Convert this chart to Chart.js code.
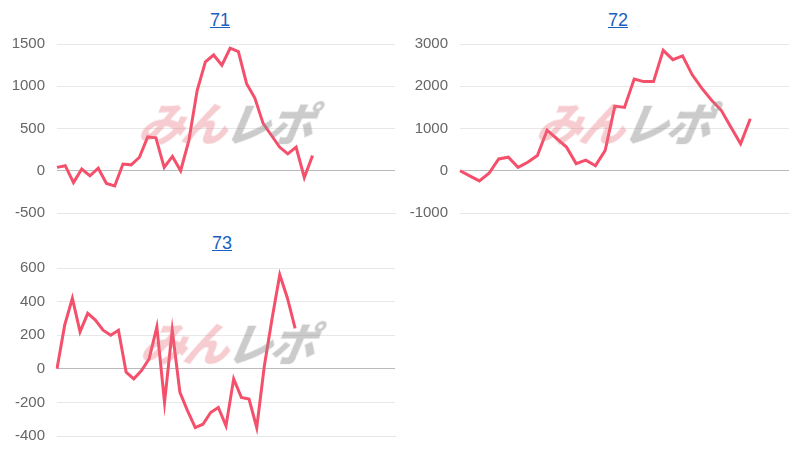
<!DOCTYPE html>
<html><head><meta charset="utf-8">
<script src="https://cdn.jsdelivr.net/npm/chart.js"></script>
<style>
body{margin:0;background:#fff;font-family:"Liberation Sans",Arial,sans-serif;overflow:hidden;}
.t{position:absolute;text-align:center;font-size:18px;width:80px;}
.t a{color:#1a5fc0;text-decoration:underline;}
.c{position:absolute;}
.wm{position:absolute;font:italic 900 46px "Noto Sans CJK JP";letter-spacing:-3px;pointer-events:none;transform:skewX(-10deg);}
.wm .a{color:rgba(230,110,120,0.35);} .wm .b{color:rgba(140,140,140,0.45);}
</style></head><body>
<div class="t" style="left:180px;top:10px"><a href="#">71</a></div>
<div class="t" style="left:578px;top:10px"><a href="#">72</a></div>
<div class="t" style="left:182px;top:233px"><a href="#">73</a></div>
<div class="c" style="left:0;top:23px;width:398px;height:211px"><canvas id="c1"></canvas></div>
<div class="c" style="left:400px;top:23px;width:392px;height:211px"><canvas id="c2"></canvas></div>
<div class="c" style="left:0;top:247px;width:398px;height:210px"><canvas id="c3"></canvas></div>
<div class="wm" style="left:140px;top:88px"><span class="a">みん</span><span class="b">レポ</span></div>
<div class="wm" style="left:538px;top:88px"><span class="a">みん</span><span class="b">レポ</span></div>
<div class="wm" style="left:142px;top:308px"><span class="a">みん</span><span class="b">レポ</span></div>
<script>
const titles=["71","72","73"];
const s71=[40,60,-140,20,-60,30,-150,-180,80,70,160,400,390,40,170,0,360,950,1290,1370,1250,1450,1410,1030,860,560,420,280,200,280,-80,180];
const s72=[0,-120,-240,-60,280,320,80,200,360,960,760,560,170,250,120,480,1530,1500,2170,2110,2110,2850,2630,2720,2270,1950,1670,1430,1030,640,1230];
const s73=[0,260,420,220,330,290,230,200,230,-20,-60,-10,60,250,-200,230,-140,-250,-350,-330,-260,-230,-340,-60,-170,-180,-350,20,300,560,420,240];
const n71=42,n72=35,n73=45;
const yMin=[-500,-1000,-400],yMax=[1500,3000,600],yStep=[500,1000,200];
function mk(id,data,n,i,yw,pb){
 const labels=Array.from({length:n},(_,k)=>String(k+1));
 new Chart(document.getElementById(id),{type:'line',
  data:{labels,datasets:[{data,borderColor:'#f4506c',borderWidth:3,pointRadius:0,tension:0,fill:false}]},
  options:{responsive:true,maintainAspectRatio:false,animation:false,
   layout:{padding:{left:0,right:3,top:8,bottom:pb}},
   plugins:{legend:{display:false},tooltip:{enabled:false}},
   scales:{x:{ticks:{display:false},grid:{display:false},border:{display:true,color:'#e6e6e6'}},
    y:{min:yMin[i],max:yMax[i],afterFit:a=>{a.width=yw;},
      ticks:{stepSize:yStep[i],color:'#666',font:{size:15,family:'Liberation Sans'},padding:12,callback:v=>String(v)},
      grid:{color:c=>c.tick.value===0?'#bbb':'#e8e8e8',drawTicks:false},border:{display:false}}}}});
}
mk('c1',s71,n71,0,57,4);
mk('c2',s72,n72,1,60,4);
mk('c3',s73,n73,2,57,4);
</script></body></html>
